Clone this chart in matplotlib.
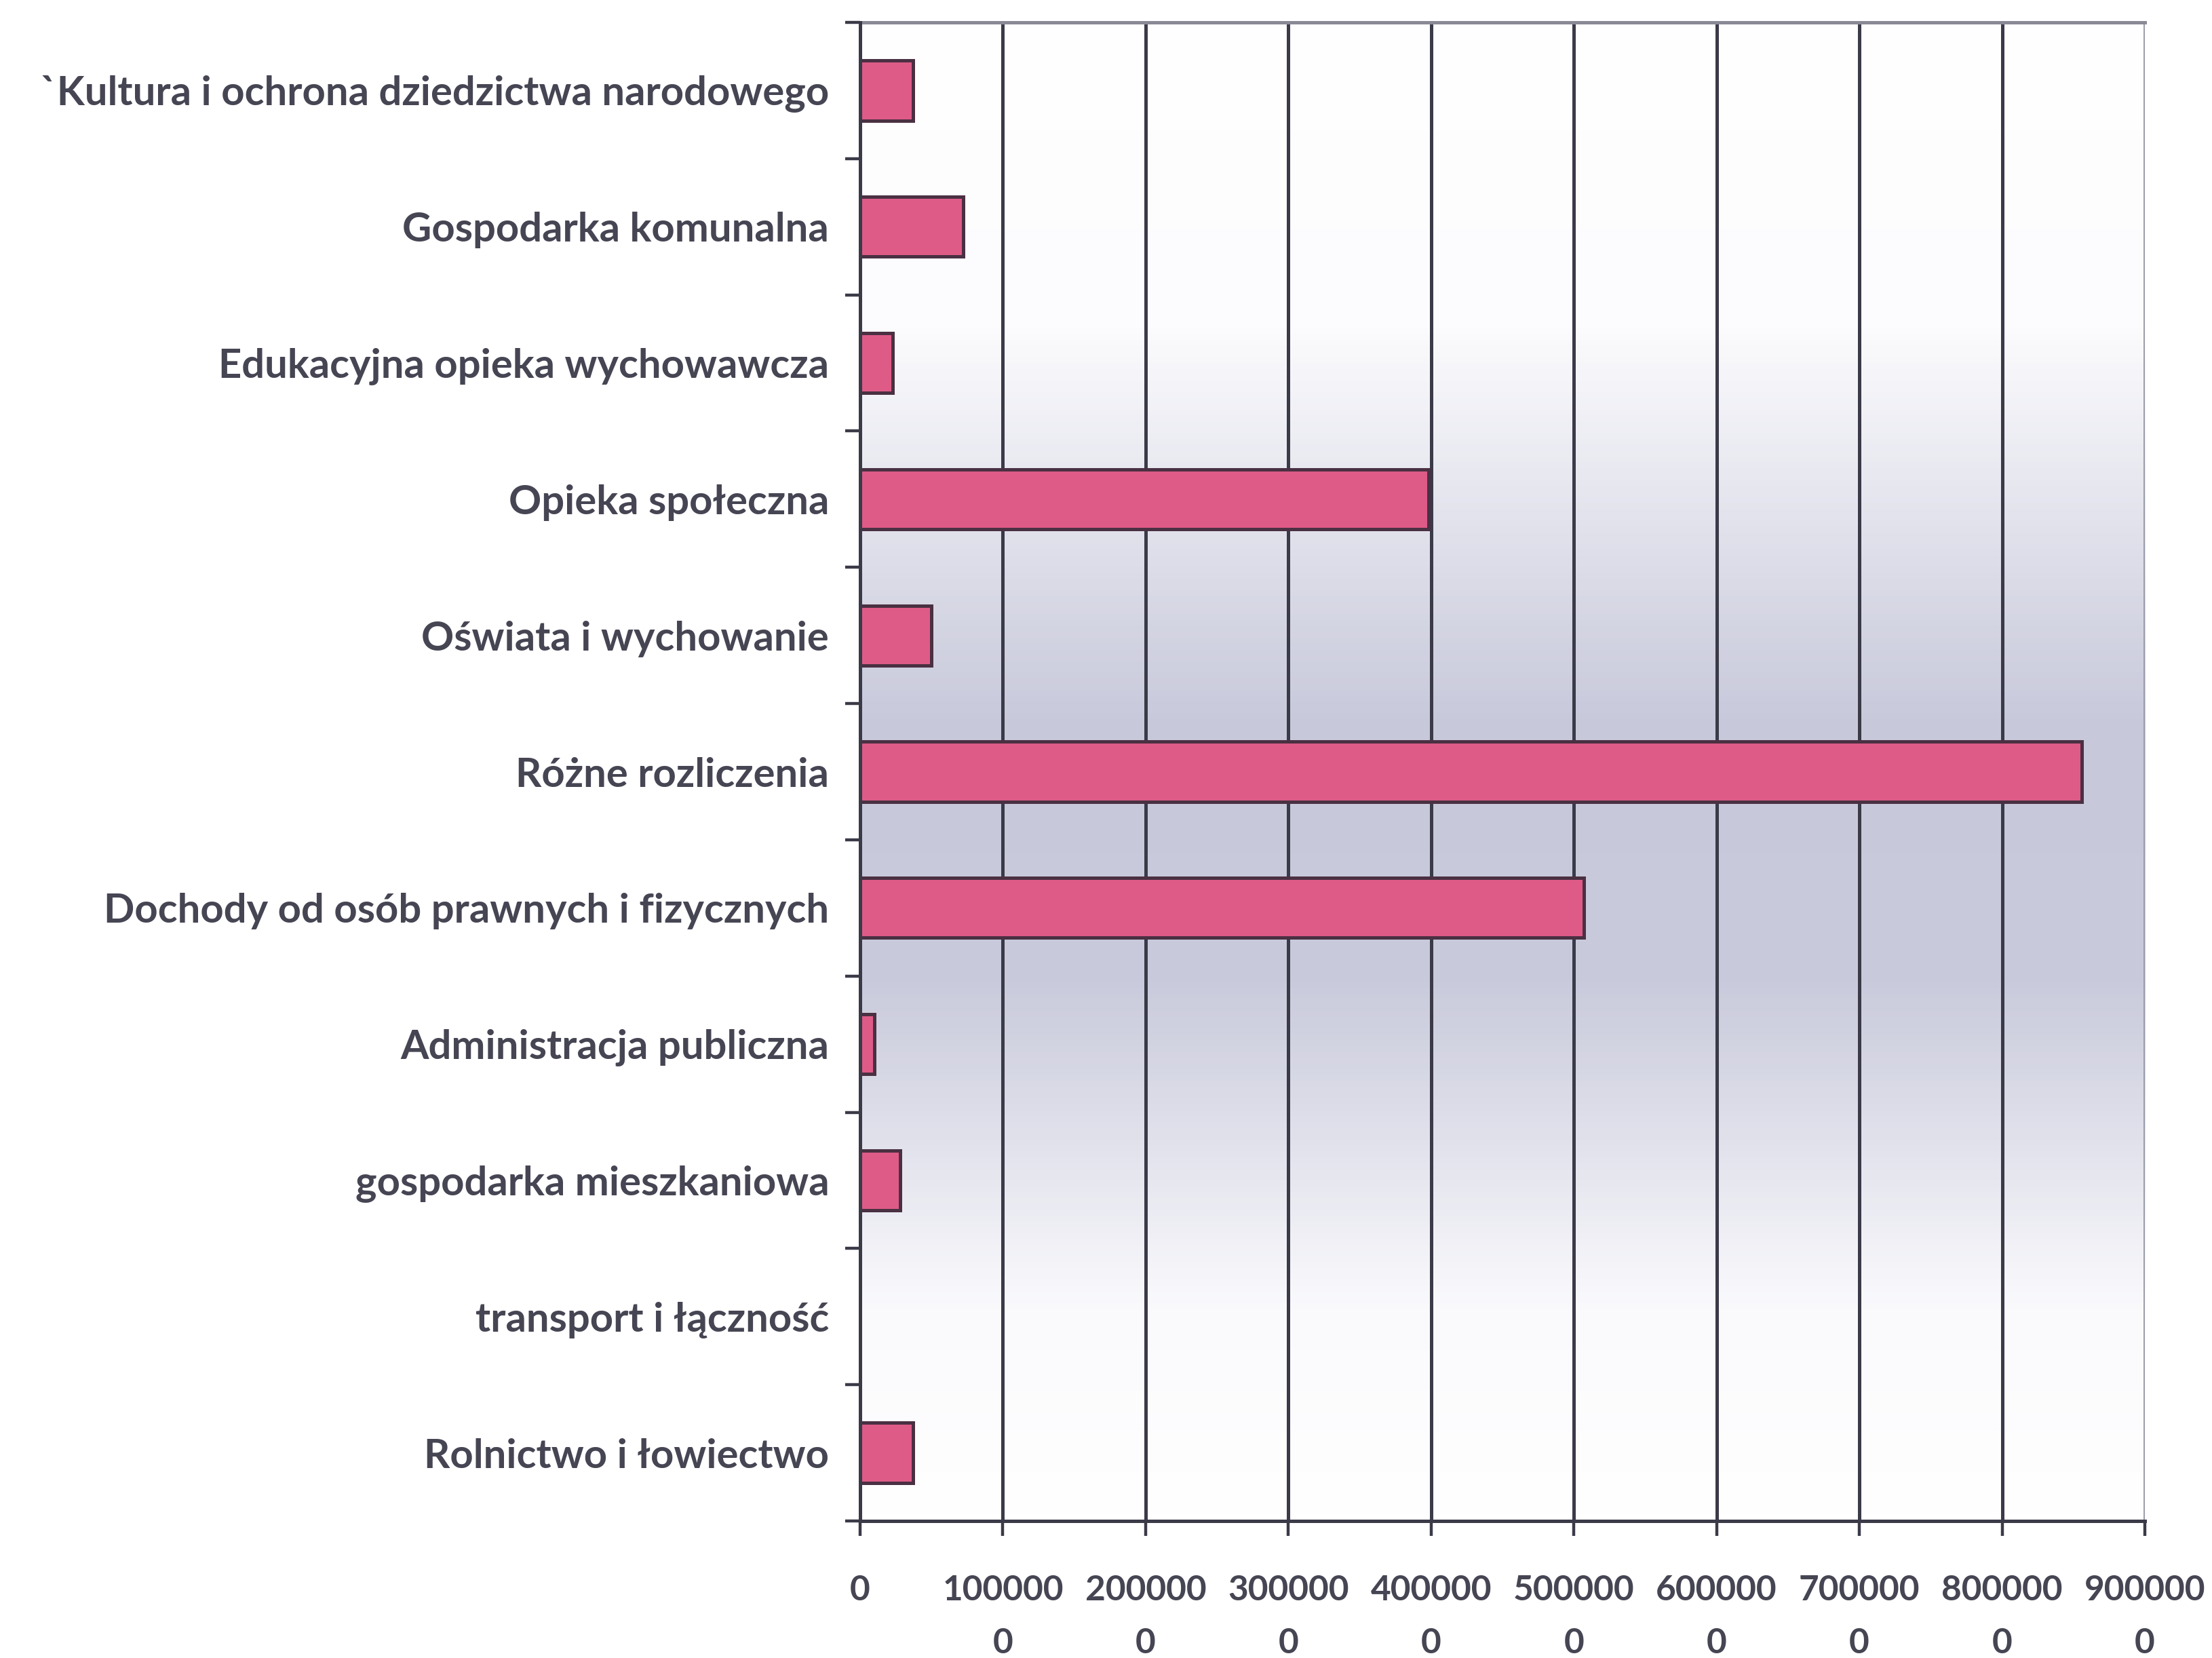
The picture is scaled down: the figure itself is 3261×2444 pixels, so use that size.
import matplotlib
matplotlib.use("Agg")
import matplotlib.pyplot as plt
from matplotlib.colors import LinearSegmentedColormap
import numpy as np

W, H = 3262, 2444
DPI = 100

# ── data (top to bottom as drawn) ─────────────────────────────────────────────
categories = [
    "`Kultura i ochrona dziedzictwa narodowego",
    "Gospodarka komunalna",
    "Edukacyjna opieka wychowawcza",
    "Opieka społeczna",
    "Oświata i wychowanie",
    "Różne rozliczenia",
    "Dochody od osób prawnych i fizycznych",
    "Administracja publiczna",
    "gospodarka mieszkaniowa",
    "transport i łączność",
    "Rolnictwo i łowiectwo",
]
values = [370000, 720000, 230000, 3980000, 500000, 8560000,
          5070000, 100000, 280000, 0, 370000]
x_ticks = [0, 1000000, 2000000, 3000000, 4000000, 5000000,
           6000000, 7000000, 8000000, 9000000]

TEXT = "#454553"
GRID = "#3a3a48"
BAR = "#df5b87"
EDGE = "#4a3042"
FONT = ["Lato", "DejaVu Sans"]

fig = plt.figure(figsize=(W / DPI, H / DPI), dpi=DPI)
fig.patch.set_facecolor("white")
ax = fig.add_axes([1268 / W, 1 - 2242 / H, (3162 - 1268) / W, (2242 - 33) / H])

# background gradient: white -> lavender grey -> white
grad = LinearSegmentedColormap.from_list("bg", [
    (0.0, "#ffffff"), (0.2, "#fcfcfe"), (0.47, "#c7c8da"),
    (0.64, "#c9cadb"), (0.86, "#fafafd"), (1.0, "#ffffff")])
ax.imshow(np.linspace(0, 1, 400).reshape(-1, 1), cmap=grad, aspect="auto",
          extent=[0, 1, 0, 1], transform=ax.transAxes, zorder=0,
          interpolation="bicubic")

pos = np.arange(len(categories))
ax.barh(pos, values, height=0.44, color=BAR, edgecolor=EDGE,
        linewidth=3.6, zorder=3)

ax.set_xlim(0, 9000000)
ax.set_ylim(len(categories) - 0.5, -0.5)

# vertical gridlines
for v in x_ticks[1:-1]:
    ax.axvline(v, color=GRID, linewidth=3.6, zorder=2)
ax.axvline(x_ticks[-1], color="#9c9cab", linewidth=3.6, zorder=2)

# y axis: labels at centres, ticks at category boundaries
ax.set_yticks(pos)
ax.set_yticklabels(categories, fontsize=43, color=TEXT,
                   fontweight="bold", family=FONT)
ax.set_yticks(np.arange(-0.5, len(categories)), minor=True)
ax.tick_params(axis="y", which="major", length=0, pad=33)
ax.tick_params(axis="y", which="minor", length=16, width=3.2,
               color=GRID, direction="out")

# x axis: labels wrapped after six digits, like the original
labels = []
for v in x_ticks:
    s = str(v)
    labels.append(s if len(s) <= 6 else s[:6] + "\n" + s[6:])
ax.set_xticks(x_ticks)
ax.set_xticklabels(labels, fontsize=37, color=TEXT, fontweight="bold",
                   family=FONT, linespacing=1.8)
ax.tick_params(axis="x", length=16, width=3.2, color=GRID,
               direction="out", pad=41)

for side in ["left", "bottom"]:
    ax.spines[side].set_color(GRID)
    ax.spines[side].set_linewidth(3.6)
    ax.spines[side].set_zorder(4)
ax.spines["top"].set_color("#8a8a96")
ax.spines["top"].set_linewidth(3.6)
ax.spines["right"].set_visible(False)

fig.savefig("out.png", dpi=DPI, facecolor="white")
plt.close(fig)
